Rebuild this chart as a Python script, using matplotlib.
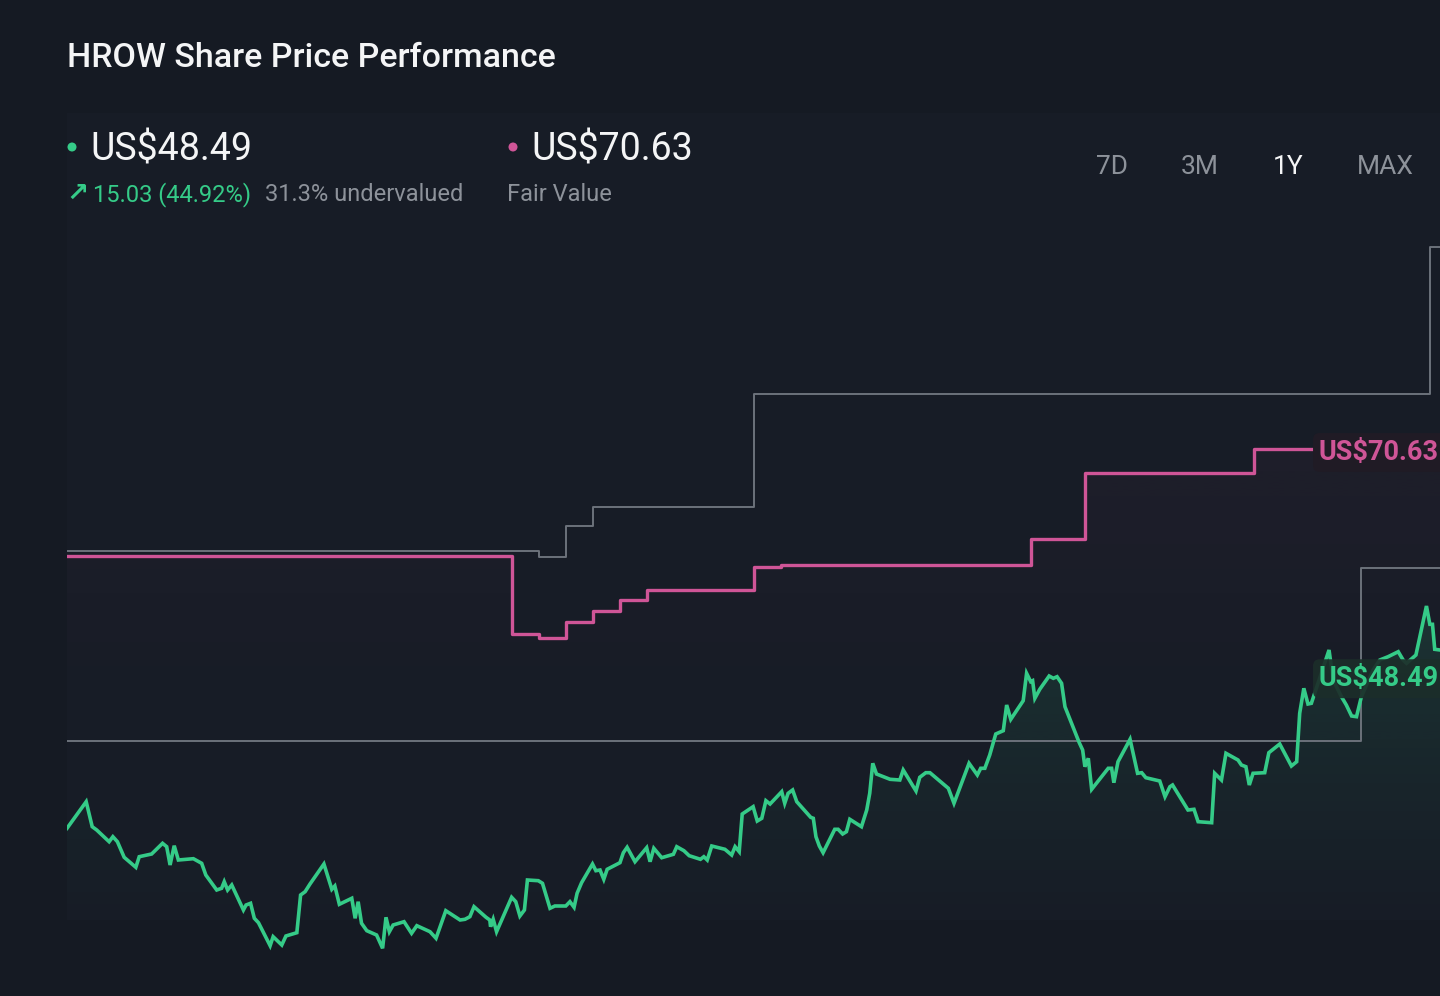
import numpy as np
import matplotlib
matplotlib.use("Agg")
import matplotlib.pyplot as plt
from matplotlib.patches import Polygon, Ellipse, Rectangle
from matplotlib.transforms import blended_transform_factory
from matplotlib.colors import to_rgb

# ---------------- data ----------------
title = "HROW Share Price Performance"
current_price_label = "US$48.49"
fair_value_label = "US$70.63"
change_label = "15.03 (44.92%)"
valuation_label = "31.3% undervalued"
fair_value_caption = "Fair Value"
periods = ["7D", "3M", "1Y", "MAX"]
active_period = "1Y"
current_price = 48.49
fair_value = 70.63

# share price (days since start of 1Y window, US$)
price_days = [0, 5.1, 6.7, 7.9, 11.2, 12.2, 13.4, 15.2, 18.3, 19.2,
              21.2, 22.5, 25.4, 26.5, 27.4, 28.5, 29.6, 33.6, 35.8, 36.9,
              39.8, 41.1, 41.8, 42.7, 43.8, 46.9, 47.6, 48.8, 49.8, 50.9,
              54.0, 54.8, 57.1, 58.2, 61.1, 62.1, 63.3, 64.6, 68.3, 70.4,
              71.2, 72.4, 75.7, 76.6, 77.4, 78.3, 79.7, 82.3, 83.9, 84.8,
              85.7, 86.7, 89.6, 91.6, 93.0, 96.5, 98.1, 100.7, 104.5, 105.8,
              107.1, 108.2, 111.4, 112.4, 112.6, 113.3, 114.2, 118.2, 119.3, 120.4,
              121.6, 122.4, 125.3, 126.4, 128.4, 129.7, 132.6, 133.7, 134.8, 135.6,
              136.8, 139.7, 140.6, 141.7, 142.7, 143.6, 147.0, 147.9, 148.9, 151.0,
              154.1, 155.0, 156.0, 158.1, 161.2, 162.1, 164.0, 165.4, 168.4, 169.3,
              170.2, 171.4, 174.9, 176.7, 177.6, 178.7, 179.5, 182.4, 183.5, 184.7,
              185.8, 186.9, 190.0, 190.8, 191.7, 192.9, 194.0, 197.7, 198.4, 199.1,
              200.0, 201.0, 204.1, 205.0, 206.2, 207.2, 208.1, 211.2, 212.6, 213.4,
              214.2, 215.2, 218.8, 221.4, 222.3, 225.7, 226.7, 228.3, 229.4, 234.3,
              235.8, 239.8, 242.0, 242.9, 244.0, 245.3, 246.9, 248.9, 249.8, 250.9,
              254.2, 255.1, 256.2, 256.7, 257.3, 258.6, 261.1, 262.2, 263.2, 264.4,
              265.3, 269.1, 270.0, 270.6, 271.5, 272.4, 276.8, 277.7, 278.3, 279.4,
              282.6, 284.6, 285.7, 286.8, 290.5, 291.9, 293.2, 293.9, 298.0, 299.6,
              300.7, 304.3, 305.1, 306.9, 308.1, 311.3, 312.2, 313.4, 314.3, 315.3,
              318.4, 319.5, 322.4, 325.5, 326.9, 327.7, 328.8, 329.9, 330.8, 335.5,
              336.6, 338.8, 340.1, 341.5, 342.8, 344.1, 347.2, 349.0, 351.2, 353.9,
              355.2, 356.1, 358.6, 361.4, 362.3, 363.0, 363.6, 365.0]
prices = [32.70, 35.36, 32.86, 32.53, 31.36, 31.86, 31.36, 29.80, 28.80, 29.86,
          30.03, 30.13, 31.20, 30.86, 29.03, 30.96, 29.53, 29.66, 29.20, 28.03,
          26.53, 26.70, 27.36, 26.53, 27.03, 24.53, 25.03, 25.20, 23.70, 23.26,
          20.96, 21.86, 21.03, 21.93, 22.26, 26.03, 26.36, 27.13, 29.13, 26.60,
          26.93, 25.10, 25.70, 23.70, 25.36, 23.20, 22.46, 22.03, 20.70, 23.80,
          22.36, 23.03, 23.36, 22.20, 22.96, 22.36, 21.70, 24.46, 23.53, 23.60,
          23.86, 24.86, 23.80, 23.53, 22.86, 23.60, 22.36, 25.80, 25.36, 23.93,
          24.53, 27.53, 27.46, 27.20, 24.70, 24.93, 24.93, 25.36, 24.80, 26.20,
          27.26, 29.13, 28.46, 28.53, 27.60, 28.60, 29.26, 30.26, 30.80, 29.36,
          30.76, 29.36, 30.70, 29.76, 30.10, 30.86, 30.46, 29.96, 29.60, 29.86,
          29.53, 30.93, 30.60, 30.03, 30.86, 30.36, 34.13, 34.86, 33.43, 33.70,
          35.46, 35.13, 36.36, 35.20, 36.20, 36.53, 35.36, 33.80, 33.70, 31.86,
          30.93, 30.26, 32.60, 32.60, 32.13, 32.36, 33.60, 32.86, 34.53, 36.20,
          39.20, 38.13, 37.60, 37.53, 38.53, 36.43, 37.80, 38.26, 38.26, 36.70,
          35.20, 39.20, 38.03, 38.70, 38.70, 40.03, 42.13, 42.46, 45.03, 43.60,
          45.46, 48.20, 47.36, 47.46, 45.70, 46.60, 47.93, 47.70, 47.86, 47.20,
          44.86, 41.26, 40.53, 38.86, 39.70, 36.60, 38.70, 38.70, 37.26, 39.36,
          41.60, 38.20, 38.26, 37.76, 37.43, 35.86, 36.86, 37.03, 34.53, 34.60,
          33.36, 33.26, 38.20, 37.53, 40.20, 39.53, 39.03, 38.86, 37.03, 38.20,
          38.26, 40.26, 41.13, 38.93, 39.36, 44.20, 46.70, 45.13, 45.20, 50.53,
          47.53, 45.86, 45.03, 43.93, 43.86, 45.86, 48.53, 49.53, 49.86, 50.36,
          49.53, 49.20, 50.03, 54.93, 53.10, 53.10, 50.60, 50.53]

# fair value estimate (step changes)
fv_days = [0, 118.3, 125.5, 132.6, 139.8, 147.0, 154.2, 182.6, 189.8, 256.2, 270.6, 315.5]
fv_values = [59.93, 52.13, 51.73, 53.33, 54.43, 55.53, 56.53, 58.83, 59.03, 61.63, 68.23, 70.63]

# analyst high / low price targets (step changes)
high_days = [0, 125.5, 132.6, 139.8, 182.6, 362.3]
high_values = [60.43, 59.83, 62.93, 64.83, 76.13, 90.83]
low_days = [0, 344.0]
low_values = [41.43, 58.73]

if len(price_days) != len(prices):
    raise ValueError("length mismatch %d %d" % (len(price_days), len(prices)))

# ---------------- style ----------------
W, H = 1440, 996
BG = "#151a23"
PANEL = "#171c26"
GREEN = "#35cb88"
PINK = "#cf5597"
GREY_LINE = "#6c727b"
GREY_TXT = "#8d929a"
WHITE = "#f4f5f6"
FONT = ["Roboto", "DejaVu Sans"]
plt.rcParams["font.family"] = FONT

def fx(px):
    return px / W

def fy(py):
    return 1 - py / H

fig = plt.figure(figsize=(W / 100, H / 100), dpi=100, facecolor=BG)

# subtle chart panel
fig.add_artist(Rectangle((fx(67), fy(920)), fx(W) - fx(67), fy(113) - fy(920),
                         transform=fig.transFigure, facecolor=PANEL, edgecolor="none", zorder=0))

ax = fig.add_axes([fx(67), 0, 1 - fx(67), 1])
ax.set_facecolor("none")
for s in ax.spines.values():
    s.set_visible(False)
ax.set_xticks([])
ax.set_yticks([])
XMIN, XMAX = 0, 365
YMIN, YMAX = 15.93, 115.53

# step series extended to end
fv_x = fv_days + [XMAX]
fv_y = fv_values + [fv_values[-1]]
hi_x = high_days + [XMAX]
hi_y = high_values + [high_values[-1]]
lo_x = low_days + [XMAX]
lo_y = low_values + [low_values[-1]]

ax.plot(hi_x, hi_y, drawstyle="steps-post", color=GREY_LINE, lw=1.4, zorder=2)
ax.plot(lo_x, lo_y, drawstyle="steps-post", color=GREY_LINE, lw=1.4, zorder=2)

# faint pink gradient under fair value
fx_step = np.repeat(fv_x, 2)[1:]
fy_step = np.repeat(fv_y, 2)[:-1]
pink_poly = Polygon(np.column_stack([np.r_[XMIN, fx_step, XMAX], np.r_[YMIN, fy_step, YMIN]]),
                    closed=True, transform=ax.transData, facecolor="none", edgecolor="none")
ax.add_patch(pink_poly)
pg = np.zeros((256, 1, 4))
pg[..., :3] = to_rgb(PINK)
pg[:, 0, 3] = np.linspace(0.0, 0.045, 256) ** 1.0
im_p = ax.imshow(pg, extent=[XMIN, XMAX, 44, 72], origin="lower", aspect="auto", zorder=1,
                 interpolation="bilinear")
im_p.set_clip_path(pink_poly)

ax.plot(fv_x, fv_y, drawstyle="steps-post", color=PINK, lw=2.4, zorder=3)

# green gradient under price
gpoly = Polygon(np.column_stack([np.r_[XMIN, price_days, XMAX], np.r_[YMIN, prices, YMIN]]),
                closed=True, transform=ax.transData, facecolor="none", edgecolor="none")
ax.add_patch(gpoly)
gg = np.zeros((256, 1, 4))
gg[..., :3] = to_rgb(GREEN)
gg[:, 0, 3] = np.linspace(0.0, 0.2, 256) ** 1.2
im_g = ax.imshow(gg, extent=[XMIN, XMAX, 22.0, 56.0], origin="lower", aspect="auto", zorder=1,
                 interpolation="bilinear")
im_g.set_clip_path(gpoly)

ax.plot(price_days, prices, color=GREEN, lw=2.6, solid_joinstyle="miter", zorder=4)

ax.set_xlim(XMIN, XMAX)
ax.set_ylim(YMIN, YMAX)

# end labels
bt = blended_transform_factory(ax.transAxes, ax.transData)
lab_x = (1319 - 67) / (W - 67)
ax.annotate(fair_value_label, xy=(lab_x, fair_value), xycoords=bt, xytext=(0, -2.5),
            textcoords="offset points", va="center", ha="left", fontsize=19.5,
            fontweight="bold", color=PINK, zorder=6, annotation_clip=False,
            bbox=dict(boxstyle="round,pad=0.22,rounding_size=0.25", fc="#201b25", ec="none"))
ax.annotate(current_price_label, xy=(lab_x, current_price), xycoords=bt, xytext=(0, -6),
            textcoords="offset points", va="center", ha="left", fontsize=19.5,
            fontweight="bold", color=GREEN, zorder=6, annotation_clip=False,
            bbox=dict(boxstyle="round,pad=0.22,rounding_size=0.25", fc="#1c2e2a", ec="none", alpha=0.92))

# ---------------- header ----------------
fig.text(fx(67), fy(67), title, ha="left", va="baseline", fontsize=24.5, fontweight=500, color=WHITE)

fig.add_artist(Ellipse((fx(72), fy(147)), 9 / W, 9 / H, transform=fig.transFigure,
                       facecolor=GREEN, edgecolor="none"))
fig.text(fx(90), fy(160), current_price_label, ha="left", va="baseline", fontsize=27, color=WHITE)
fig.add_artist(Ellipse((fx(513), fy(147)), 9 / W, 9 / H, transform=fig.transFigure,
                       facecolor=PINK, edgecolor="none"))
fig.text(fx(531), fy(160), fair_value_label, ha="left", va="baseline", fontsize=27, color=WHITE)

fig.text(fx(66), fy(201), "\u2197", ha="left", va="baseline", fontsize=19, fontweight="bold",
         color=GREEN, family=["DejaVu Sans"])
fig.text(fx(93), fy(201), change_label, ha="left", va="baseline", fontsize=17, color=GREEN)
fig.text(fx(265), fy(201), valuation_label, ha="left", va="baseline", fontsize=17, color=GREY_TXT)
fig.text(fx(507), fy(201), fair_value_caption, ha="left", va="baseline", fontsize=17, color=GREY_TXT)

for lbl, cx in zip(periods, [1112, 1200, 1288, 1385]):
    fig.text(fx(cx), fy(174), lbl, ha="center", va="baseline", fontsize=19,
             color=WHITE if lbl == active_period else GREY_TXT)

fig.savefig("out.png", dpi=100, facecolor=BG)
